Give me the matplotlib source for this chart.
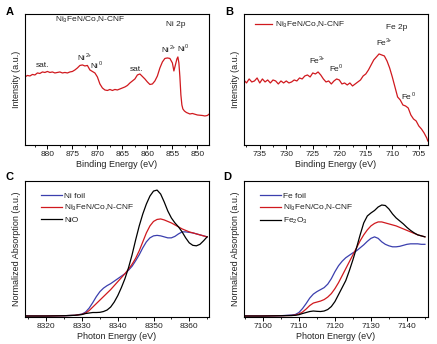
import matplotlib
matplotlib.use("Agg")
import matplotlib.pyplot as plt
from matplotlib.ticker import MultipleLocator

plt.rcParams['font.family'] = ['Liberation Sans', 'DejaVu Sans']
plt.rcParams['mathtext.fontset'] = 'custom'
plt.rcParams['mathtext.rm'] = 'Liberation Sans'
plt.rcParams['mathtext.it'] = 'Liberation Sans:italic'
plt.rcParams['font.size'] = 6

# ---- (A) Ni 2p XPS ----
ni2p_be = [884.5, 884.0, 883.5, 883.0, 882.5, 882.0, 881.5, 881.0, 880.5, 880.0,
           879.5, 879.0, 878.5, 878.0, 877.5, 877.0, 876.5, 876.0, 875.5, 875.0,
           874.5, 874.0, 873.5, 873.0, 872.5, 872.0, 871.5, 871.0, 870.5, 870.0,
           869.5, 869.0, 868.5, 868.0, 867.5, 867.0, 866.5, 866.0, 865.5, 865.0,
           864.5, 864.0, 863.5, 863.0, 862.5, 862.0, 861.5, 861.0, 860.5, 860.0,
           859.5, 859.0, 858.5, 858.0, 857.5, 857.0, 856.5, 856.0, 855.5, 855.0,
           854.7, 854.4, 854.1, 853.9, 853.7, 853.5, 853.3, 853.1, 852.9, 852.6,
           852.2, 851.5, 851.0, 850.0, 849.0, 848.5, 848.0, 847.5]
ni2p_int = [68, 69.5, 69, 70.5, 70, 72, 71.5, 73, 72.5, 73.5,
            72.5, 73, 72, 72.5, 73, 72, 72.5, 72, 73, 73.5,
            75, 77, 79.5, 80, 79, 79.5, 75, 73.5, 72, 68,
            61, 57, 55, 54.5, 55.5, 54.5, 55.5, 55, 56, 57,
            58, 59.5, 62, 64, 66, 70, 71, 68.5, 66, 63,
            60.5, 61, 64, 69, 77, 83, 86.5, 87, 86.5, 82,
            74, 80, 86, 88, 82, 68, 50, 40, 36, 34,
            32.5, 31, 31.5, 30, 29.5, 29, 29.5, 31.5]

# ---- (B) Fe 2p XPS ----
fe2p_be = [738.0, 737.5, 737.0, 736.5, 736.0, 735.5, 735.0, 734.5, 734.0, 733.5,
           733.0, 732.5, 732.0, 731.5, 731.0, 730.5, 730.0, 729.5, 729.0, 728.5,
           728.0, 727.5, 727.0, 726.5, 726.0, 725.5, 725.0, 724.5, 724.0, 723.5,
           723.0, 722.5, 722.0, 721.5, 721.0, 720.5, 720.0, 719.5, 719.0, 718.5,
           718.0, 717.5, 717.0, 716.5, 716.0, 715.5, 715.0, 714.5, 714.0, 713.5,
           713.0, 712.5, 712.0, 711.5, 711.0, 710.5, 710.0, 709.5, 709.0, 708.5,
           708.0, 707.5, 707.0, 706.5, 706.0, 705.5, 705.0, 704.5, 704.0, 703.5, 703.3]
fe2p_int = [65, 62, 66, 63, 64, 67, 62, 66, 63, 65,
            62, 65, 64, 61, 64, 62, 64, 62, 63, 65,
            64, 67, 66, 69, 70, 68, 72, 71, 73, 70,
            66, 63, 64, 61, 64, 66, 65, 61, 62, 60,
            62, 59, 61, 63, 65, 69, 71, 75, 80, 85,
            88, 91, 90, 89, 84, 77, 68, 58, 48, 45,
            40, 39, 37, 30, 26, 24, 19, 16, 12, 7, 4]

# ---- (C) Ni K-edge XANES ----
ni_e = [8314, 8320, 8325, 8328, 8330, 8331, 8332, 8333, 8334, 8335,
        8336, 8337, 8338, 8339, 8340, 8341, 8342, 8343, 8344, 8345,
        8346, 8347, 8348, 8349, 8350, 8351, 8352, 8353, 8354, 8355,
        8356, 8357, 8358, 8359, 8360, 8361, 8362, 8363, 8364, 8365]
ni_foil = [0.5, 0.5, 0.8, 1.2, 2.5, 4.5, 8.5, 14, 20, 25,
           28.5, 31, 33, 35.5, 38, 40.5, 43, 46.5, 50.5, 56,
           62, 69, 75, 79, 81, 81.5, 81, 80, 79, 79,
           80.5, 83, 85, 85, 84.5, 84, 83, 82, 81, 80]
ni_sample = [0.5, 0.5, 0.8, 1.2, 2.2, 3.5, 6, 9.5, 13, 16.5,
             20, 23.5, 27, 31, 35, 39, 43, 47.5, 52.5, 58.5,
             66, 75, 84, 91, 95.5, 97.5, 98, 97, 95.5, 94,
             92, 90, 88, 86.5, 85, 84, 83, 82, 81, 80]
ni_oxide = [0.5, 0.5, 0.8, 1.2, 2, 3, 3.5, 4, 4, 4.2,
            5, 6.5, 9.5, 14.5, 21, 29, 38, 49, 62, 77,
            91, 103, 113, 121, 126, 127, 123, 115, 106, 99,
            94, 90, 85, 79, 74, 71.5, 71, 72.5, 76, 80]

# ---- (D) Fe K-edge XANES ----
fe_e = [7095, 7100, 7105, 7108, 7109, 7110, 7111, 7112, 7113, 7114,
        7115, 7116, 7117, 7118, 7119, 7120, 7121, 7122, 7123, 7124,
        7125, 7126, 7127, 7128, 7129, 7130, 7131, 7132, 7133, 7134,
        7135, 7136, 7137, 7138, 7139, 7140, 7141, 7142, 7143, 7144, 7145]
fe_foil = [0.5, 0.5, 0.8, 1.5, 2, 4, 8, 13, 18.5, 22.5,
           25, 27, 29, 32.5, 38, 45, 51, 55.5, 59, 61.5,
           64, 66, 69, 72, 75.5, 78.5, 80, 78.5, 75, 72.5,
           71, 70, 70, 70.5, 71.5, 72.5, 73, 73, 73, 72.5, 72.5]
fe_sample = [0.5, 0.5, 0.8, 1, 1.5, 2.5, 4.5, 7.5, 11, 13.5,
             14.5, 15.5, 17, 19.5, 23, 28, 34, 41, 48, 55,
             62, 69, 76, 82, 87, 91, 93.5, 95, 95, 94,
             93, 92, 91, 89.5, 88, 86.5, 85, 83.5, 82, 81, 80]
fe_oxide = [0.5, 0.5, 0.8, 1, 1.2, 1.8, 3, 4, 5, 5.5,
            5.2, 5, 5.5, 7, 10, 15, 22, 29, 36, 46,
            57, 69, 82, 94, 101, 104, 106.5, 110, 112, 111.5,
            108, 103, 99, 96, 93, 89.5, 86.5, 84, 82, 81, 80]

sample = r'Ni$_\mathregular{3}$FeN/Co,N-CNF'
red = '#d0191e'
blue = '#3b3fae'
txt = '#222222'

fig = plt.figure(figsize=(4.37, 3.44), dpi=100)
axA = fig.add_axes([0.057, 0.5785, 0.421, 0.381])
axB = fig.add_axes([0.558, 0.5785, 0.421, 0.381])
axC = fig.add_axes([0.057, 0.0785, 0.421, 0.395])
axD = fig.add_axes([0.558, 0.0785, 0.421, 0.395])


def style(ax, major, minor):
    for s in ax.spines.values():
        s.set_linewidth(0.8)
    ax.set_yticks([])
    ax.xaxis.set_major_locator(MultipleLocator(major))
    ax.xaxis.set_minor_locator(MultipleLocator(minor))
    ax.tick_params(axis='x', which='major', direction='out', length=3, width=0.7,
                   labelsize=6, labelcolor=txt, pad=1.5)
    ax.tick_params(axis='x', which='minor', direction='out', length=1.5, width=0.6)


def peak(ax, x, y, elem, charge):
    # element symbol with a small raised oxidation state
    ax.annotate(elem, (x, y), ha='right', va='center', color=txt, fontsize=6)
    ax.annotate(charge, (x, y), xytext=(0.2, 2.5), textcoords='offset points',
                ha='left', va='center', color=txt, fontsize=4)


# A
axA.plot(ni2p_be, ni2p_int, color=red, lw=0.9)
axA.set_xlim(884.5, 847.7)
axA.set_ylim(0, 131)
style(axA, 5, 2.5)
axA.set_xlabel('Binding Energy (eV)', fontsize=6.5, color=txt, labelpad=1)
axA.set_ylabel('Intensity (a.u.)', fontsize=6.5, color=txt, labelpad=3)
axA.text(0.353, 0.955, sample, transform=axA.transAxes, ha='center', va='center', color=txt)
axA.text(0.82, 0.92, 'Ni 2p', transform=axA.transAxes, ha='center', va='center', color=txt)
axA.text(881, 79, 'sat.', ha='center', va='center', color=txt)
peak(axA, 872.4, 86, 'Ni', '2+')
peak(axA, 869.8, 78, 'Ni', '0')
axA.text(862.1, 75, 'sat.', ha='center', va='center', color=txt)
peak(axA, 855.6, 94, 'Ni', '2+')
peak(axA, 852.5, 95, 'Ni', '0')

# B
axB.plot(fe2p_be, fe2p_int, color=red, lw=0.9, label=sample)
axB.set_xlim(738, 703.3)
axB.set_ylim(0, 131)
style(axB, 5, 2.5)
axB.set_xlabel('Binding Energy (eV)', fontsize=6.5, color=txt, labelpad=1)
axB.set_ylabel('Intensity (a.u.)', fontsize=6.5, color=txt, labelpad=3)
axB.legend(loc='upper left', bbox_to_anchor=(0.03, 1.0), frameon=False, borderpad=0.2,
           handlelength=2.0, handletextpad=0.4, fontsize=6, labelcolor=txt)
axB.text(0.83, 0.9, 'Fe 2p', transform=axB.transAxes, ha='center', va='center', color=txt)
peak(axB, 723.9, 83, 'Fe', '3+')
peak(axB, 720.1, 75, 'Fe', '0')
peak(axB, 711.2, 101, 'Fe', '3+')
peak(axB, 706.4, 47, 'Fe', '0')

# C
axC.plot(ni_e, ni_foil, color=blue, lw=0.9, label='Ni foil')
axC.plot(ni_e, ni_sample, color=red, lw=0.9, label=sample)
axC.plot(ni_e, ni_oxide, color='black', lw=0.9, label='NiO')
axC.set_xlim(8314, 8365.5)
axC.set_ylim(-0.5, 136)
style(axC, 10, 5)
axC.set_xlabel('Photon Energy (eV)', fontsize=6.5, color=txt, labelpad=1)
axC.set_ylabel('Normalized Absorption (a.u.)', fontsize=6.5, color=txt, labelpad=3)
axC.legend(loc='upper left', bbox_to_anchor=(0.055, 0.96), frameon=False, borderpad=0.2,
           handlelength=2.5, handletextpad=0.3, labelspacing=0.35, fontsize=6,
           labelcolor=txt)

# D
axD.plot(fe_e, fe_foil, color=blue, lw=0.9, label='Fe foil')
axD.plot(fe_e, fe_sample, color=red, lw=0.9, label=sample)
axD.plot(fe_e, fe_oxide, color='black', lw=0.9, label=r'Fe$_\mathregular{2}$O$_\mathregular{3}$')
axD.set_xlim(7094.7, 7145.8)
axD.set_ylim(-0.5, 136)
style(axD, 10, 5)
axD.set_xlabel('Photon Energy (eV)', fontsize=6.5, color=txt, labelpad=1)
axD.set_ylabel('Normalized Absorption (a.u.)', fontsize=6.5, color=txt, labelpad=3)
axD.legend(loc='upper left', bbox_to_anchor=(0.055, 0.96), frameon=False, borderpad=0.2,
           handlelength=2.5, handletextpad=0.3, labelspacing=0.35, fontsize=6,
           labelcolor=txt)

# panel letters
for x, y, s in [(0.012, 0.965, 'A'), (0.515, 0.965, 'B'), (0.012, 0.485, 'C'), (0.51, 0.485, 'D')]:
    fig.text(x, y, s, fontsize=8, fontweight='bold', ha='left', va='center')

fig.savefig('out.png', dpi=100)
